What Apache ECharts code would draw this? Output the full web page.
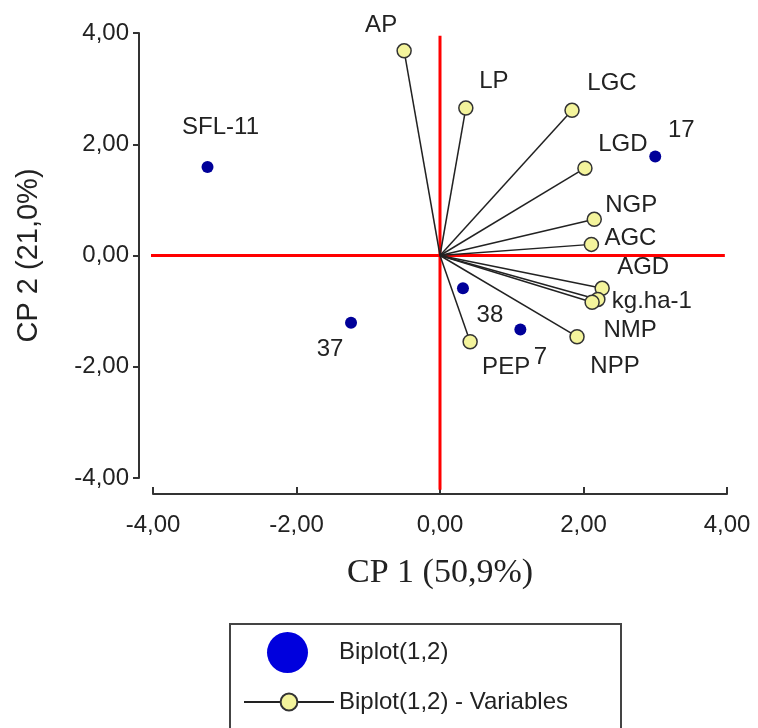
<!DOCTYPE html>
<html>
<head>
<meta charset="utf-8">
<script src="https://cdn.jsdelivr.net/npm/echarts@6/dist/echarts.min.js"></script>
<style>
  html, body { margin: 0; padding: 0; background: #fff; }
  #chart { width: 758px; height: 728px; }
</style>
</head>
<body>
<div id="chart"></div>
<script>
// observations (blue points)
const obsNames = ['SFL-11', '37', '17', '38', '7']
const obsX = [-3.24, -1.24, 3.0, 0.32, 1.12]
const obsY = [1.59, -1.21, 1.78, -0.59, -1.33]

// variables (vectors from origin)
const varNames = ['AP', 'LP', 'LGC', 'LGD', 'NGP', 'AGC', 'AGD', 'kg.ha-1', 'NMP', 'NPP', 'PEP']
const varX = [-0.5, 0.36, 1.84, 2.02, 2.15, 2.11, 2.26, 2.2, 2.12, 1.91, 0.42]
const varY = [3.68, 2.65, 2.61, 1.57, 0.65, 0.2, -0.59, -0.79, -0.84, -1.46, -1.55]

// axis ticks
const axisMin = -4
const axisMax = 4
const axisStep = 2

// red reference cross
const crossH = [[-4.18, 0], [3.97, 0]]
const crossV = [[0, 3.95], [0, -4.21]]

// label offsets in px (label centre relative to the mark)
const obsLabelOffset = [[13, -40], [-21, 27], [26, -26], [27, 27], [20, 28]]
const varLabelOffset = [[-23, -25], [28, -27], [40, -27], [38, -24], [37, -14], [39, -6],
  [41, -21], [54, 2], [38, 28], [38, 30], [36, 26]]

const sans = '"Liberation Sans", Arial, sans-serif'
const fmt = v => v.toFixed(2).replace('.', ',')

const chart = echarts.init(document.getElementById('chart'))

const crossSeries = [crossH, crossV].map(d => ({
  type: 'line',
  data: d,
  symbol: 'none',
  clip: false,
  silent: true,
  z: 1,
  lineStyle: { color: '#ff0000', width: 3 },
}))

const varSeries = varNames.map((n, i) => ({
  name: 'Biplot(1,2) - Variables',
  type: 'line',
  z: 3,
  symbol: 'circle',
  symbolSize: 14,
  lineStyle: { color: '#222', width: 1.5 },
  itemStyle: { color: '#f4f49c', borderColor: '#333', borderWidth: 1.5 },
  label: { show: false },
  data: [
    { value: [0, 0], symbol: 'none' },
    {
      value: [varX[i], varY[i]],
      label: {
        show: true,
        position: 'inside',
        formatter: n,
        offset: varLabelOffset[i],
        fontSize: 24,
        fontFamily: sans,
        color: '#222',
      },
    },
  ],
}))

const option = {
  animation: false,
  backgroundColor: '#fff',
  grid: { left: 153, right: 31, top: 33, bottom: 250, outerBoundsMode: 'none' },
  xAxis: {
    type: 'value',
    min: axisMin,
    max: axisMax,
    interval: axisStep,
    offset: 16,
    name: 'CP 1 (50,9%)',
    nameLocation: 'middle',
    nameGap: 62,
    nameTextStyle: { fontFamily: '"Liberation Serif", "Times New Roman", serif', fontSize: 34, color: '#222' },
    axisLine: { onZero: false, lineStyle: { color: '#333', width: 2 } },
    axisTick: { inside: true, length: 7, lineStyle: { color: '#333', width: 2 } },
    axisLabel: { formatter: fmt, fontSize: 24, fontFamily: sans, color: '#222', margin: 19 },
    splitLine: { show: false },
  },
  yAxis: {
    type: 'value',
    min: axisMin,
    max: axisMax,
    interval: axisStep,
    offset: 14,
    name: 'CP 2 (21,0%)',
    nameLocation: 'middle',
    nameGap: 96,
    nameTextStyle: { fontFamily: sans, fontSize: 29, color: '#222' },
    axisLine: { onZero: false, lineStyle: { color: '#333', width: 2 } },
    axisTick: { length: 6, lineStyle: { color: '#333', width: 2 } },
    axisLabel: { formatter: fmt, fontSize: 24, fontFamily: sans, color: '#222', margin: 10 },
    splitLine: { show: false },
  },
  legend: [
    {
      data: [{ name: 'Biplot(1,2)', icon: 'circle', itemStyle: { color: '#0000dd', opacity: 1 } }],
      left: 262,
      top: 627,
      itemWidth: 41,
      itemHeight: 41,
      selectedMode: false,
      textStyle: { fontSize: 24, fontFamily: sans, color: '#222', padding: [0, 0, 0, 26] },
    },
    {
      data: ['Biplot(1,2) - Variables'],
      left: 238,
      top: 685,
      itemWidth: 90,
      itemHeight: 21,
      selectedMode: false,
      textStyle: { fontSize: 24, fontFamily: sans, color: '#222' },
    },
  ],
  graphic: [
    {
      type: 'rect',
      shape: { x: 230, y: 624, width: 391, height: 130 },
      style: { fill: 'none', stroke: '#444', lineWidth: 2 },
      silent: true,
    },
  ],
  series: [
    ...crossSeries,
    ...varSeries,
    {
      name: 'Biplot(1,2)',
      type: 'scatter',
      z: 4,
      symbolSize: 12,
      itemStyle: { color: '#000099', opacity: 1 },
      data: obsNames.map((n, i) => ({
        value: [obsX[i], obsY[i]],
        label: {
          show: true,
          position: 'inside',
          formatter: n,
          offset: obsLabelOffset[i],
          fontSize: 24,
          fontFamily: sans,
          color: '#222',
        },
      })),
    },
  ],
}

chart.setOption(option)
</script>
</body>
</html>
